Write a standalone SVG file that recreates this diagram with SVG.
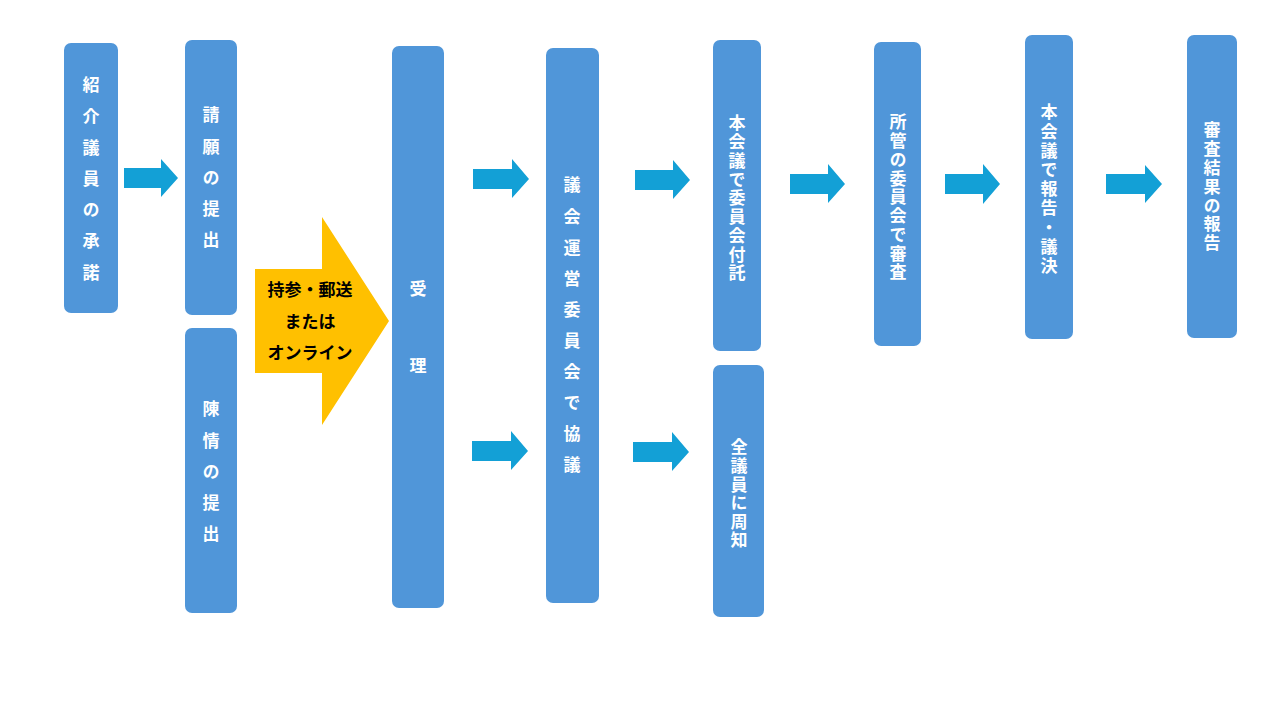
<svg xmlns="http://www.w3.org/2000/svg" width="1280" height="720" viewBox="0 0 1280 720">
<defs>
<style>
.box{fill:#5096D9;}
.lbl{fill:#FFFFFF;font-family:"Noto Sans CJK JP","Noto Sans",sans-serif;font-size:17px;font-weight:bold;writing-mode:vertical-rl;text-anchor:start;}
.arr{fill:#13A0D6;}
.ylbl{fill:#000000;font-family:"Noto Sans CJK JP","Noto Sans",sans-serif;font-size:17px;font-weight:bold;text-anchor:middle;}
</style>
</defs>
<rect width="1280" height="720" fill="#FFFFFF"/>
<g id="connectors">
<polygon class="arr" points="124,168 161,168 161,159 178,178 161,197 161,188 124,188"/>
<polygon class="arr" points="473,169 512,169 512,159 529,179 512,198 512,189 473,189"/>
<polygon class="arr" points="472,441 511,441 511,431 528,451 511,470 511,461 472,461"/>
<polygon class="arr" points="635,170 673,170 673,160 690,180 673,199 673,190 635,190"/>
<polygon class="arr" points="633,442 672,442 672,432 689,452 672,471 672,462 633,462"/>
<polygon class="arr" points="790,174 828,174 828,164 845,184 828,203 828,194 790,194"/>
<polygon class="arr" points="945,174 983,174 983,164 1000,184 983,204 983,194 945,194"/>
<polygon class="arr" points="1106,174 1145,174 1145,165 1162,184 1145,203 1145,194 1106,194"/>
</g>
<g id="yellow-arrow">
<polygon fill="#FFC000" points="255,269 322,269 322,217 389,321 322,425 322,373 255,373"/>
<text class="ylbl" x="310" y="296">持参・郵送</text>
<text class="ylbl" x="310" y="328">または</text>
<text class="ylbl" x="310" y="359">オンライン</text>
</g>
<g id="n1">
<rect class="box" x="64" y="43" width="54" height="270" rx="7"/>
<text class="lbl" x="91" y="76.5" letter-spacing="14.2">紹介議員の承諾</text>
</g>
<g id="n2">
<rect class="box" x="185" y="40" width="52" height="275" rx="7"/>
<text class="lbl" x="211" y="106.5" letter-spacing="14.2">請願の提出</text>
</g>
<g id="n3">
<rect class="box" x="185" y="328" width="52" height="285" rx="7"/>
<text class="lbl" x="211" y="400.5" letter-spacing="14.2">陳情の提出</text>
</g>
<g id="n4">
<rect class="box" x="392" y="46" width="52" height="562" rx="7"/>
<text class="lbl" x="418" y="280.5" letter-spacing="60">受理</text>
</g>
<g id="n5">
<rect class="box" x="546" y="48" width="53" height="555" rx="7"/>
<text class="lbl" x="572" y="176.5" letter-spacing="14.1">議会運営委員会で協議</text>
</g>
<g id="n6">
<rect class="box" x="713" y="40" width="48" height="311" rx="7"/>
<text class="lbl" x="737" y="114.5" letter-spacing="1.75">本会議で委員会付託</text>
</g>
<g id="n7">
<rect class="box" x="713" y="365" width="51" height="252" rx="7"/>
<text class="lbl" x="739" y="438.5" letter-spacing="1.6">全議員に周知</text>
</g>
<g id="n8">
<rect class="box" x="874" y="42" width="47" height="304" rx="7"/>
<text class="lbl" x="898" y="113.5" letter-spacing="1.75">所管の委員会で審査</text>
</g>
<g id="n9">
<rect class="box" x="1025" y="35" width="48" height="304" rx="7"/>
<text class="lbl" x="1049" y="103.5" letter-spacing="2.2">本会議で報告・議決</text>
</g>
<g id="n10">
<rect class="box" x="1187" y="35" width="50" height="303" rx="7"/>
<text class="lbl" x="1212" y="121.5" letter-spacing="1.8">審査結果の報告</text>
</g>
</svg>
